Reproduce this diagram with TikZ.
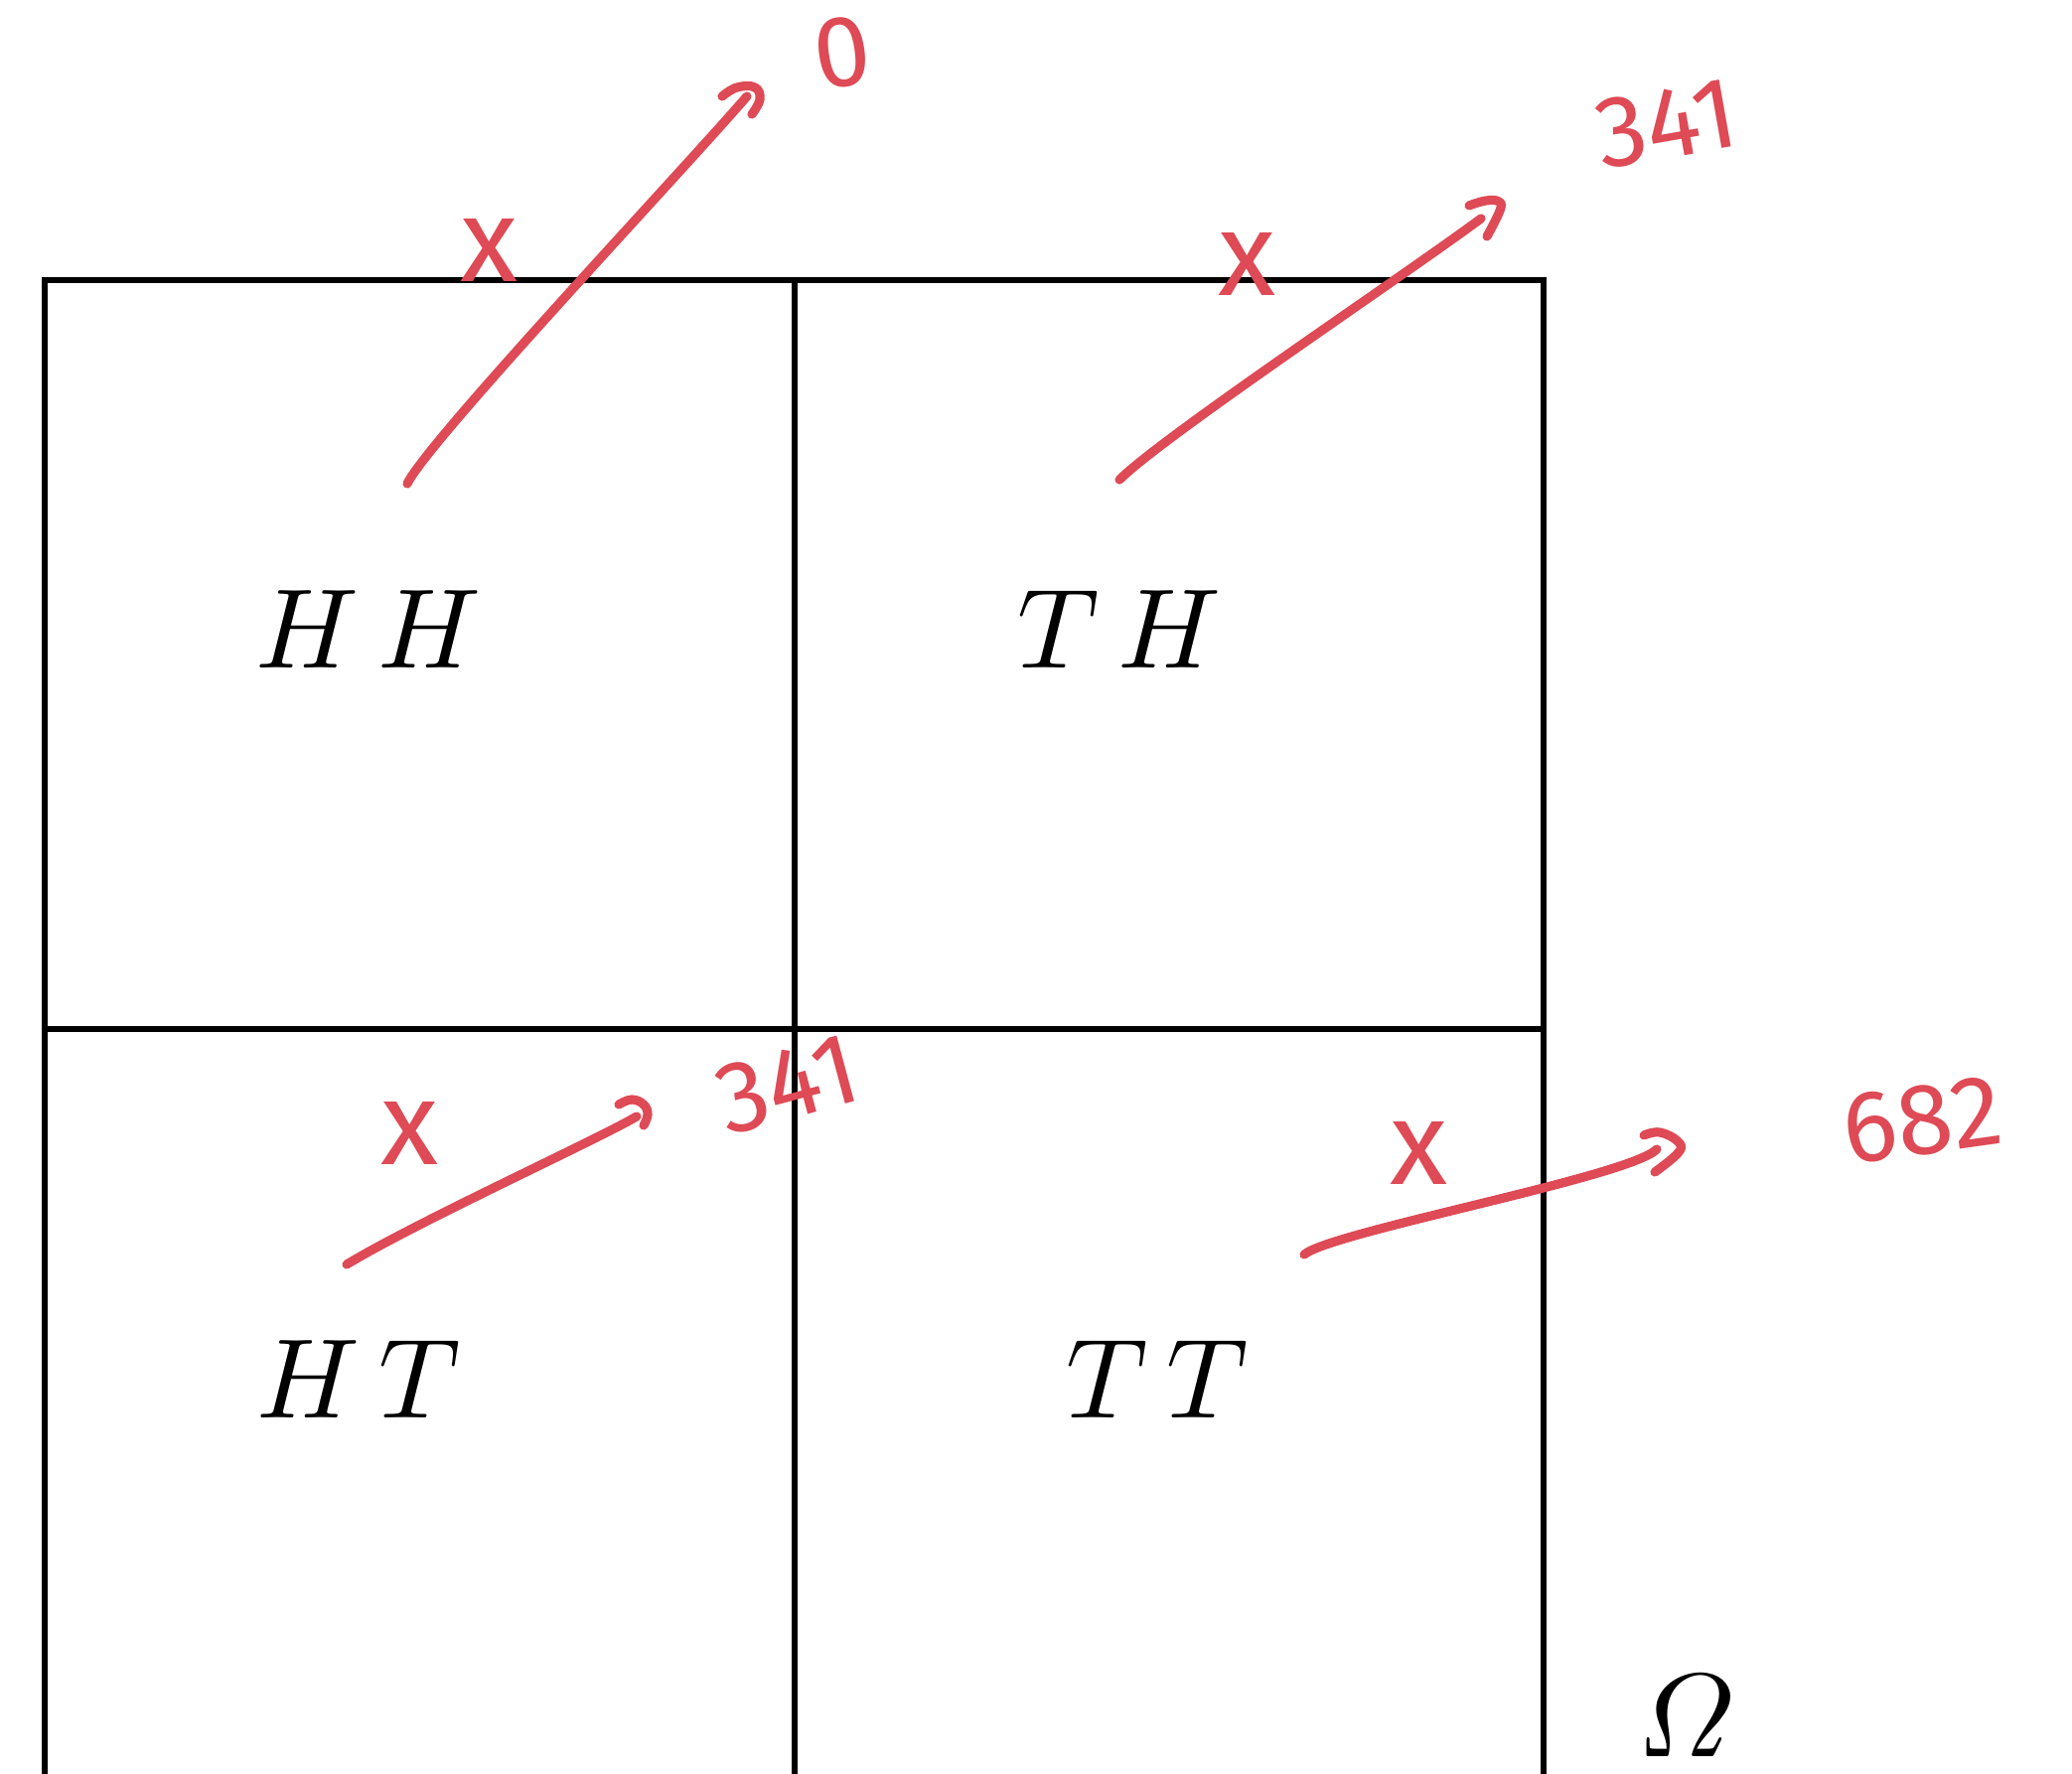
\documentclass[tikz,border=0pt]{standalone}
\usepackage{amsmath}
\usepackage{fontspec}
\newfontfamily\handfont{Fira Sans}
\definecolor{pen}{RGB}{222,74,85}
\begin{document}
\begin{tikzpicture}[x=0.01cm,y=-0.01cm,
  gridline/.style={line width=1.7pt,black},
  penline/.style={pen,line width=2.6pt,line cap=round,line join=round},
  celltext/.style={inner sep=0pt,scale=3.24},
  xlabel/.style={inner sep=0pt,text=pen,font=\handfont\fontsize{34}{40}\selectfont},
  numlabel/.style={inner sep=0pt,text=pen,font=\handfont\fontsize{29}{34}\selectfont}]
\useasboundingbox (0,0) rectangle (2086,1786);
\clip (0,0) rectangle (2086,1786);
\fill[white] (0,0) rectangle (2086,1786);
% grid
\draw[gridline] (45,1800) -- (45,282) -- (1554,282) -- (1554,1800);
\draw[gridline] (800,282) -- (800,1800);
\draw[gridline] (45,1036) -- (1554,1036);
% cell labels
\node[celltext] (hh) at (371,634) {$H\,H$};
\node[celltext] (th) at (1127,634) {$T\,H$};
\node[celltext] (ht) at (361,1389) {$H\,T$};
\node[celltext] (tt) at (1165,1389) {$T\,T$};
\node[inner sep=0pt,scale=3.4] (om) at (1698,1728) {$\varOmega$};
% value labels
\node[numlabel,rotate=8] (v0) at (848,53) {0};
\node[numlabel,rotate=10] (v1) at (1678,125) {341};
\node[numlabel,rotate=15] (v2) at (793,1092) {341};
\node[numlabel,rotate=8] (v3) at (1935,1128) {682};
% x marks
\node[xlabel] (x1) at (492,252) {x};
\node[xlabel] (x2) at (1255,266) {x};
\node[xlabel] (x3) at (412,1141) {x};
\node[xlabel] (x4) at (1428,1161) {x};
% arrows
\coordinate (a1s) at (410,487); \coordinate (a1e) at (752,97);
\coordinate (a2s) at (1127,483); \coordinate (a2e) at (1491,220);
\coordinate (a3s) at (349,1273); \coordinate (a3e) at (641,1124);
\coordinate (a4s) at (1313,1263); \coordinate (a4e) at (1668,1157);
\draw[penline] (a1s) .. controls (430,445) and (680,180) .. (a1e);
\draw[penline] plot[smooth,tension=0.7] coordinates {(727,97) (742,88) (760,88) (765,100) (757,115)};
\draw[penline] (a2s) .. controls (1170,440) and (1410,280) .. (a2e);
\draw[penline] plot[smooth,tension=0.7] coordinates {(1479,207) (1496,202) (1509,203) (1510,212) (1497,238)};
\draw[penline] (a3s) .. controls (420,1230) and (600,1148) .. (a3e);
\draw[penline] plot[smooth,tension=0.7] coordinates {(623,1112) (636,1107) (648,1112) (652,1122) (648,1133)};
\draw[penline] (a4s) .. controls (1340,1240) and (1640,1185) .. (a4e);
\draw[penline] plot[smooth,tension=0.7] coordinates {(1655,1143) (1671,1140) (1689,1149) (1690,1160) (1666,1180)};
\end{tikzpicture}
\end{document}
